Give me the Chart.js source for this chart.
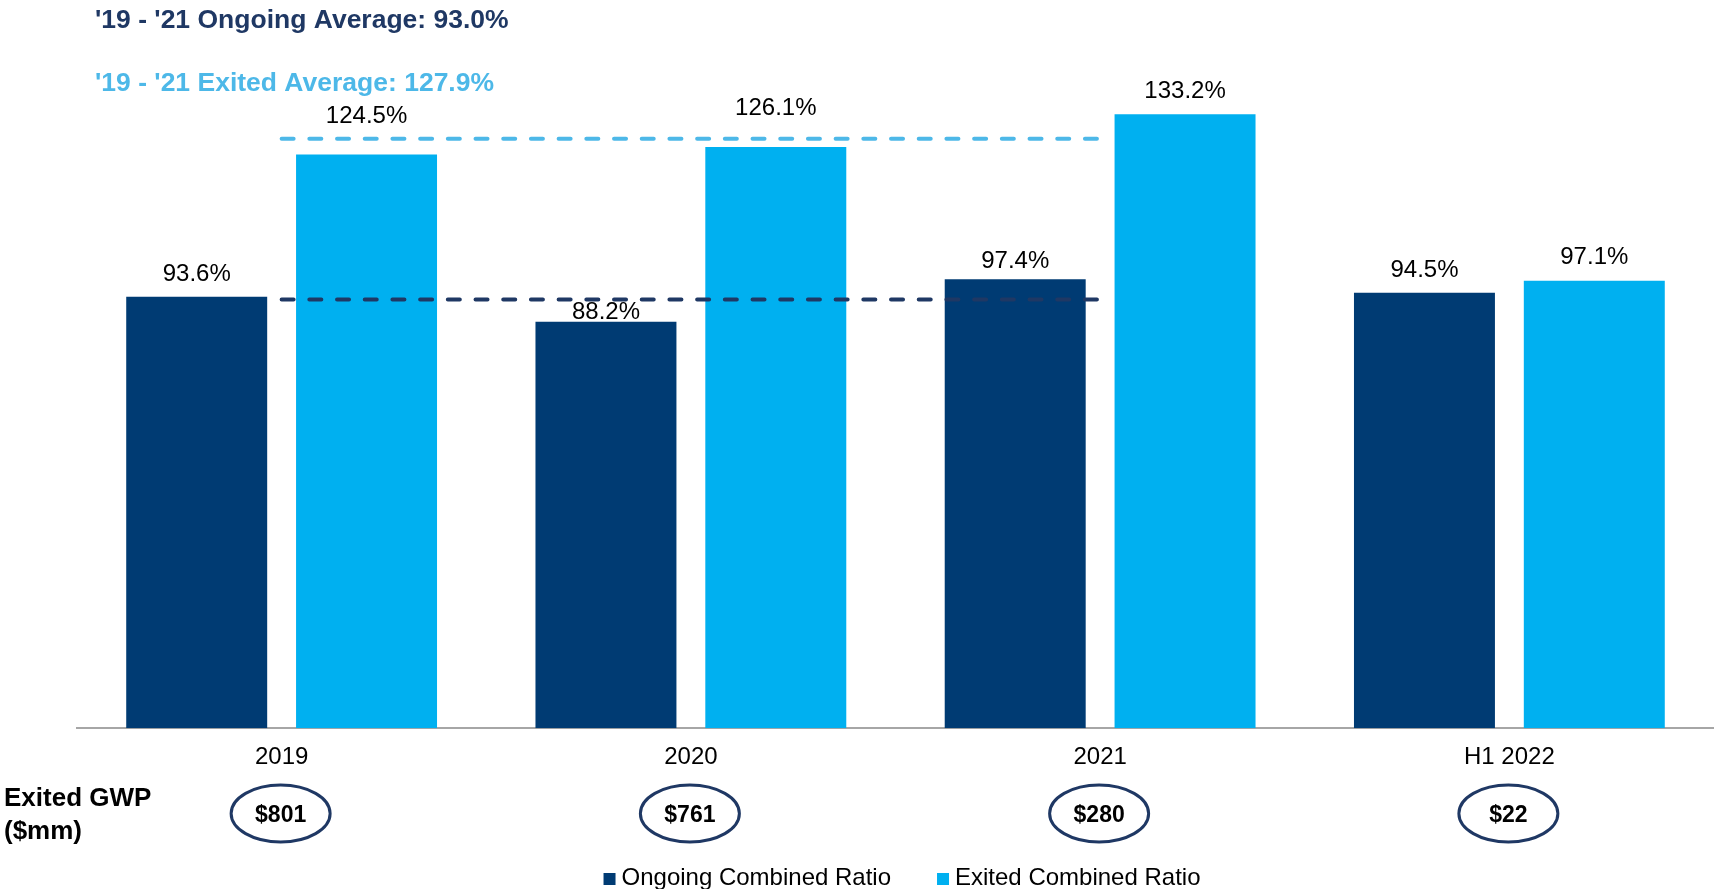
<!DOCTYPE html>
<html>
<head>
<meta charset="utf-8">
<title>Ongoing vs Exited Combined Ratio</title>
<script src="https://cdn.jsdelivr.net/npm/chart.js@4.4.1/dist/chart.umd.min.js"></script>
<style>
  html, body { margin: 0; padding: 0; background: #fff; }
  #wrap { width: 1714px; height: 889px; overflow: hidden; }
</style>
</head>
<body>
<div id="wrap"><canvas id="ratioChart" width="1714" height="889"></canvas></div>
<script>
// ---- data ----
const periods = ["2019", "2020", "2021", "H1 2022"];
const ongoingRatio = [93.6, 88.2, 97.4, 94.5];
const exitedRatio = [124.5, 126.1, 133.2, 97.1];
const ongoingAvg = [93.0, 93.0, 93.0, null];
const exitedAvg = [127.9, 127.9, 127.9, null];
const exitedGwp = ["$801", "$761", "$280", "$22"];
const headlines = ["'19 - '21 Ongoing Average: 93.0%", "'19 - '21 Exited Average: 127.9%"];

// how far (px) each value label sits above its bar, nudged to clear the dashed lines
const ongoingLift = [22.5, 9.5, 17.5, 22.5];
const exitedLift = [38.5, 38.5, 22.5, 23.5];

const NAVY = "#003b73";
const SKY = "#00b0f0";
const NAVY_LINE = "#1f3864";
const SKY_LINE = "#4db8e8";
const FONT = "Arial, 'Liberation Sans', sans-serif";

Chart.defaults.font.family = FONT;
Chart.defaults.color = "#000";

// draws the value labels, headlines, GWP row and legend
const slideText = {
    id: "slideText",
    afterDatasetsDraw(chart) {
        const ctx = chart.ctx;
        ctx.save();
        ctx.font = "24px " + FONT;
        ctx.fillStyle = "#000";
        ctx.textAlign = "center";
        ctx.textBaseline = "middle";
        chart.data.datasets.forEach((ds, di) => {
            if (ds.type !== "bar") return;
            const meta = chart.getDatasetMeta(di);
            meta.data.forEach((bar, i) => {
                ctx.fillText(ds.data[i].toFixed(1) + "%", bar.x, bar.y - ds.lift[i]);
            });
        });
        ctx.restore();
    },
    afterDraw(chart) {
        const ctx = chart.ctx;
        const xs = chart.scales.x;
        ctx.save();
        ctx.textBaseline = "middle";

        // headlines
        ctx.textAlign = "left";
        ctx.font = "bold 26.5px " + FONT;
        ctx.fillStyle = NAVY_LINE;
        ctx.fillText(headlines[0], 95, 21);
        ctx.fillStyle = SKY_LINE;
        ctx.fillText(headlines[1], 95, 83.5);

        // Exited GWP row
        ctx.fillStyle = "#000";
        ctx.font = "bold 26px " + FONT;
        ctx.fillText("Exited GWP", 4, 799);
        ctx.fillText("($mm)", 4, 832);

        ctx.textAlign = "center";
        ctx.font = "bold 23px " + FONT;
        exitedGwp.forEach((val, i) => {
            const cx = xs.getPixelForValue(i);
            ctx.beginPath();
            ctx.ellipse(cx - 1, 813.5, 49.5, 28.5, 0, 0, Math.PI * 2);
            ctx.lineWidth = 3;
            ctx.strokeStyle = NAVY_LINE;
            ctx.stroke();
            ctx.fillText(val, cx - 1, 815.5);
        });

        // legend (bar series only)
        const items = chart.data.datasets.filter(d => d.type === "bar");
        ctx.font = "24px " + FONT;
        ctx.textAlign = "left";
        const box = 12, boxGap = 6, itemGap = 46;
        const widths = items.map(d => box + boxGap + ctx.measureText(d.label).width);
        const total = widths.reduce((a, b) => a + b, 0) + itemGap * (items.length - 1);
        let x = 902 - total / 2;
        items.forEach((d, i) => {
            ctx.fillStyle = d.backgroundColor;
            ctx.fillRect(x, 873, box, box);
            ctx.fillStyle = "#000";
            ctx.fillText(d.label, x + box + boxGap, 878);
            x += widths[i] + itemGap;
        });
        ctx.restore();
    }
};

const ctx = document.getElementById("ratioChart").getContext("2d");
new Chart(ctx, {
    data: {
        labels: periods,
        datasets: [
            {
                type: "line",
                label: "'19 - '21 Ongoing Average",
                data: ongoingAvg,
                borderColor: NAVY_LINE,
                borderWidth: 4,
                borderDash: [12, 15.7],
                borderCapStyle: "round",
                pointRadius: 0,
                fill: false,
                order: 0
            },
            {
                type: "line",
                label: "'19 - '21 Exited Average",
                data: exitedAvg,
                borderColor: SKY_LINE,
                borderWidth: 4,
                borderDash: [12, 15.7],
                borderCapStyle: "round",
                pointRadius: 0,
                fill: false,
                order: 0
            },
            {
                type: "bar",
                label: "Ongoing Combined Ratio",
                data: ongoingRatio,
                lift: ongoingLift,
                backgroundColor: NAVY,
                borderWidth: 0,
                barPercentage: 0.83,
                categoryPercentage: 0.83,
                order: 1
            },
            {
                type: "bar",
                label: "Exited Combined Ratio",
                data: exitedRatio,
                lift: exitedLift,
                backgroundColor: SKY,
                borderWidth: 0,
                barPercentage: 0.83,
                categoryPercentage: 0.83,
                order: 1
            }
        ]
    },
    options: {
        responsive: false,
        animation: false,
        layout: { padding: { top: 83, left: 77, right: 0, bottom: 102 } },
        plugins: {
            legend: { display: false },
            tooltip: { enabled: false }
        },
        scales: {
            x: {
                grid: { display: false, drawTicks: false },
                border: { display: true, color: "#a6a6a6", width: 2 },
                ticks: { color: "#000", font: { size: 24 }, padding: 15 }
            },
            y: {
                display: false,
                min: 0,
                max: 140
            }
        }
    },
    plugins: [slideText]
});
</script>
</body>
</html>
